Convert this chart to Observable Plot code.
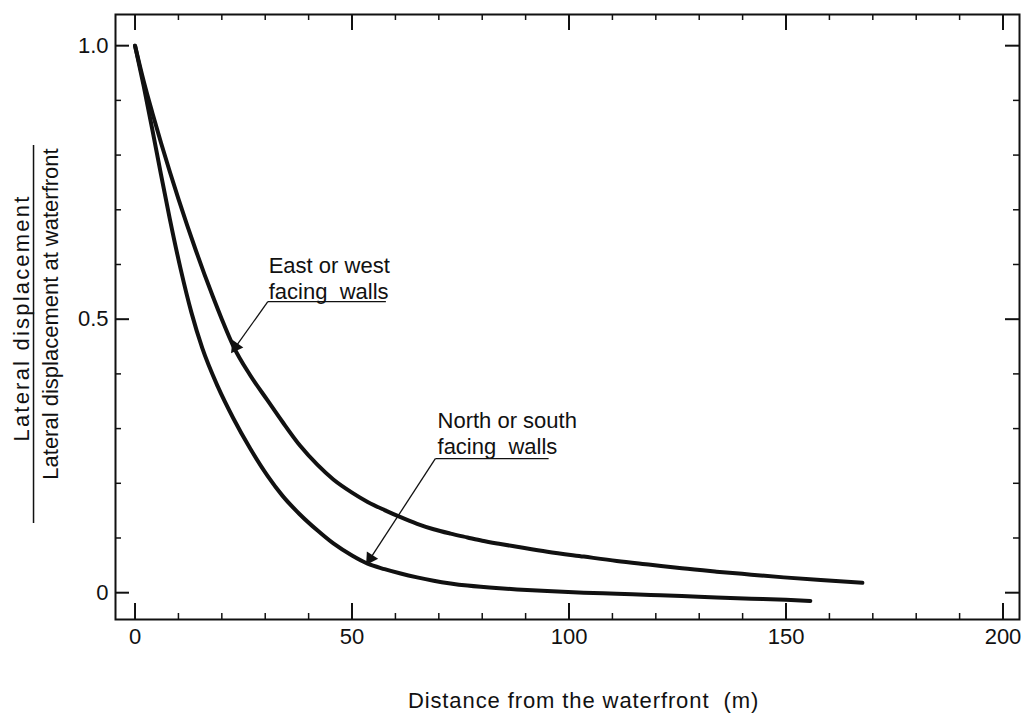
<!DOCTYPE html>
<html>
<head>
<meta charset="utf-8">
<script src="https://cdn.jsdelivr.net/npm/d3@7"></script>
<script src="https://cdn.jsdelivr.net/npm/@observablehq/plot@0.6"></script>
<style>
  html, body { margin: 0; padding: 0; background: #fff; }
  #chart { width: 1025px; height: 715px; }
</style>
</head>
<body>
<div id="chart"></div>
<script>
// Series: East or west facing walls
const distanceEW = [0, 2, 4, 6, 8, 10, 12, 14, 16, 18, 20, 22.7, 26.5, 30.5, 34, 38.1, 42, 45.7, 50, 53.6, 57.5, 61.2, 65, 68.8, 72.7, 76.6, 80, 84.2, 88, 95, 103.4, 111, 118.8, 126, 134, 142, 149.5, 158, 167.6];
const ratioEW    = [1.0, 0.935, 0.877, 0.822, 0.77, 0.72, 0.672, 0.626, 0.582, 0.54, 0.50, 0.45, 0.398, 0.352, 0.312, 0.268, 0.234, 0.207, 0.183, 0.166, 0.151, 0.138, 0.126, 0.116, 0.108, 0.101, 0.095, 0.089, 0.084, 0.075, 0.066, 0.058, 0.051, 0.0445, 0.0385, 0.033, 0.028, 0.023, 0.018];
// Series: North or south facing walls
const distanceNS = [0, 2, 4, 6, 8, 10.5, 13, 15.5, 19, 22.7, 26.5, 30.5, 34, 38, 42, 45.7, 50, 53.6, 57.5, 61.2, 65, 68.8, 72.7, 76.6, 84, 88, 95, 103.4, 111, 118.8, 126, 134, 142, 150, 155.6];
const ratioNS    = [1.0, 0.926, 0.846, 0.764, 0.684, 0.592, 0.512, 0.447, 0.378, 0.318, 0.264, 0.214, 0.177, 0.143, 0.114, 0.09, 0.068, 0.053, 0.043, 0.035, 0.028, 0.022, 0.017, 0.013, 0.008, 0.006, 0.003, 0.0, -0.002, -0.004, -0.006, -0.009, -0.011, -0.013, -0.015];

// Axis ticks
const xTicks = [0, 50, 100, 150, 200];
const xMinor = [10, 20, 30, 40, 60, 70, 80, 90, 110, 120, 130, 140, 160, 170, 180, 190];
const yTicks = [0, 0.5, 1.0];
const yMinor = [0.1, 0.2, 0.3, 0.4, 0.6, 0.7, 0.8, 0.9];

// Annotations
const annText  = ["East or west\nfacing\u00a0 walls", "North or south\nfacing\u00a0 walls"];
const annX     = [30.8, 69.7];
const annY     = [0.5375, 0.254];
const leadX1   = [30.6, 69.2];
const leadX2   = [57.8, 95.3];
const leadY    = [0.532, 0.245];
const tipX     = [22.5, 53.6];
const tipY     = [0.442, 0.055];

const yLabelTop = "Lateral displacement";
const yLabelBottom = "Lateral displacement at waterfront";
const xLabel = "Distance from the waterfront\u00a0 (m)";

const xDomain = [-4.5, 203.8];
const yDomain = [-0.049, 1.057];

const W = 1025, H = 715;
const mL = 115, mR = 6, mT = 14, mB = 96;
const innerW = W - mL - mR, innerH = H - mT - mB;
const ink = "#111";
const FS = 22;

const ew = distanceEW.map((d, i) => ({x: d, y: ratioEW[i]}));
const ns = distanceNS.map((d, i) => ({x: d, y: ratioNS[i]}));
// pixel-per-unit factors, only to orient the filled arrowheads
const kx = innerW / (xDomain[1] - xDomain[0]);
const ky = innerH / (yDomain[1] - yDomain[0]);
const ann = annText.map((t, i) => {
  const dxp = (tipX[i] - leadX1[i]) * kx;
  const dyp = -(tipY[i] - leadY[i]) * ky;
  const len = Math.hypot(dxp, dyp);
  const back = 5; // px: move the triangle's centre back from the tip
  return {
    t, x: annX[i], y: annY[i], lx1: leadX1[i], lx2: leadX2[i], ly: leadY[i], tx: tipX[i], ty: tipY[i],
    hx: tipX[i] - (dxp / len) * back / kx,
    hy: tipY[i] + (dyp / len) * back / ky,
    rot: Math.atan2(dxp, -dyp) * 180 / Math.PI
  };
});

const chart = Plot.plot({
  width: W,
  height: H,
  marginLeft: mL,
  marginRight: mR,
  marginTop: mT,
  marginBottom: mB,
  style: {fontFamily: "'Liberation Sans', Arial, Helvetica, sans-serif", fontSize: FS + "px", background: "#fff", color: ink},
  x: {domain: xDomain},
  y: {domain: yDomain},
  marks: [
    // ticks, inward on all four sides
    Plot.ruleX(xTicks, {stroke: ink, strokeWidth: 2, insetTop: innerH - 16}),
    Plot.ruleX(xMinor, {stroke: ink, strokeWidth: 1.5, insetTop: innerH - 6}),
    Plot.ruleX(xTicks, {stroke: ink, strokeWidth: 2, insetBottom: innerH - 16}),
    Plot.ruleX(xMinor, {stroke: ink, strokeWidth: 1.5, insetBottom: innerH - 6}),
    Plot.ruleY(yTicks, {stroke: ink, strokeWidth: 2, insetRight: innerW - 14}),
    Plot.ruleY(yMinor, {stroke: ink, strokeWidth: 1.5, insetRight: innerW - 6}),
    Plot.ruleY(yTicks, {stroke: ink, strokeWidth: 2, insetLeft: innerW - 14}),
    Plot.ruleY(yMinor, {stroke: ink, strokeWidth: 1.5, insetLeft: innerW - 6}),
    Plot.axisX({ticks: xTicks, tickSize: 0, tickPadding: 9, label: null, fontSize: FS}),
    Plot.axisY({ticks: yTicks, tickSize: 0, tickPadding: 7, label: null, fontSize: FS,
      tickFormat: d => d === 0 ? "0" : d.toFixed(1)}),
    Plot.frame({stroke: ink, strokeWidth: 2}),
    // curves
    Plot.line(ew, {x: "x", y: "y", stroke: ink, strokeWidth: 4, curve: "monotone-x"}),
    Plot.line(ns, {x: "x", y: "y", stroke: ink, strokeWidth: 4, curve: "monotone-x"}),
    // annotations
    Plot.link(ann, {x1: "lx1", x2: "lx2", y1: "ly", y2: "ly", stroke: ink, strokeWidth: 1.3}),
    Plot.link(ann, {x1: "lx1", y1: "ly", x2: "hx", y2: "hy", stroke: ink, strokeWidth: 1.3}),
    Plot.dot(ann, {x: "hx", y: "hy", symbol: "triangle", rotate: "rot", r: 5, fill: ink, stroke: null}),
    Plot.text(ann, {x: "x", y: "y", text: "t", textAnchor: "start", lineAnchor: "bottom", lineHeight: 1.15, fontSize: FS, fill: ink}),
    // axis titles
    Plot.text([xLabel], {text: d => d, frameAnchor: "bottom", textAnchor: "middle", dy: 81, dx: 16, lineAnchor: "middle", fontSize: FS, fill: ink}),
    Plot.text([yLabelTop], {text: d => d, frameAnchor: "left", textAnchor: "middle", dx: -94, dy: 1, rotate: -90, lineAnchor: "middle", fontSize: FS, fill: ink}),
    Plot.text([yLabelBottom], {text: d => d, frameAnchor: "left", textAnchor: "middle", dx: -65, dy: -3, rotate: -90, lineAnchor: "middle", fontSize: FS, fill: ink}),
    Plot.ruleX([0], {dx: -101.5, insetTop: 131, insetBottom: 96, stroke: ink, strokeWidth: 1.5})
  ]
});
const svg = d3.select(chart);
svg.selectAll("text")
  .filter(function () { return this.textContent === xLabel; })
  .attr("letter-spacing", "0.9px");
svg.selectAll("text")
  .filter(function () { return this.textContent === yLabelTop; })
  .attr("letter-spacing", "2.2px");
document.getElementById("chart").appendChild(chart);
</script>
</body>
</html>
